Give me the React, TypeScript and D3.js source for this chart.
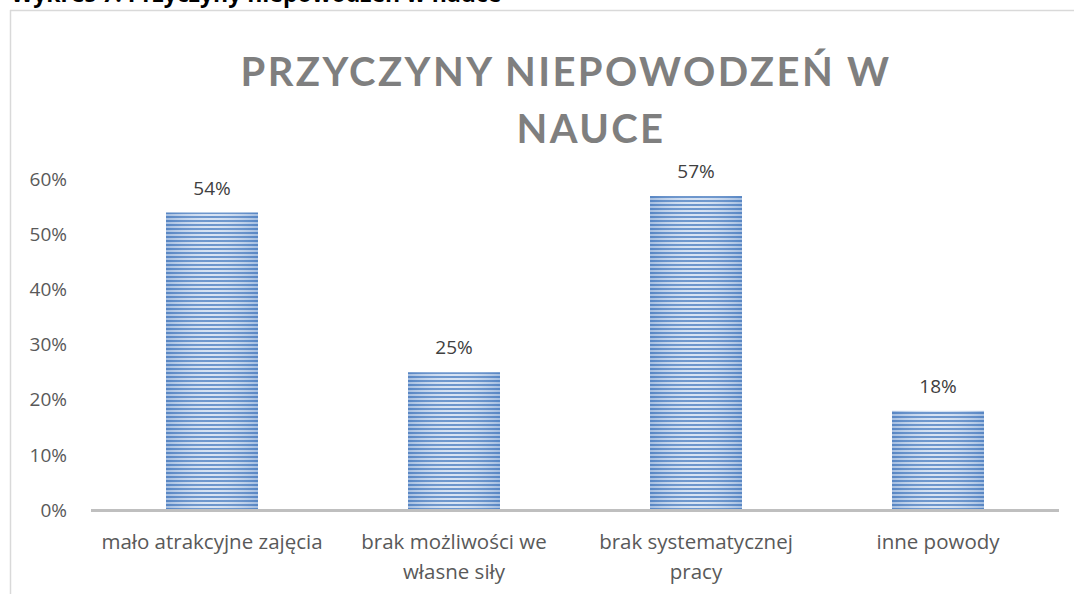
import * as d3 from 'd3';

const CATEGORIES = ['mało atrakcyjne zajęcia', 'brak możliwości we\nwłasne siły', 'brak systematycznej\npracy', 'inne powody'];
const VALUES = [0.54, 0.25, 0.57, 0.18];
const Y_TICKS = [0, 0.1, 0.2, 0.3, 0.4, 0.5, 0.6];
const TITLE_LINES = ['PRZYCZYNY NIEPOWODZEŃ W', 'NAUCE'];
const CAPTION = 'Wykres 7. Przyczyny niepowodzeń w nauce';

const W = 1074, H = 594;
const FONT = '"Open Sans", Lato, sans-serif';
const TITLE_FONT = 'Lato, "Open Sans", sans-serif';

export default function App() {
  const x = d3.scaleBand<string>().domain(CATEGORIES).range([91, 1059]).paddingInner(0.62).paddingOuter(0.31);
  const y = d3.scaleLinear().domain([0, 0.6]).range([510, 179.5]);
  const pct = d3.format('.0%');

  return (
    <svg width={W} height={H} style={{ position: 'absolute', left: 0, top: 0, background: '#fff' }}>
      <defs>
        <pattern id="stripes" patternUnits="userSpaceOnUse" width={8} height={4}>
          <rect width={8} height={4} fill="#d3e0f2" />
          <rect y={0} width={8} height={2} fill="#5b89c6" />
        </pattern>
        <linearGradient id="shade" x1="0" x2="1" y1="0" y2="0">
          <stop offset="0" stopColor="#4f7fbf" stopOpacity={0.35} />
          <stop offset="0.5" stopColor="#ffffff" stopOpacity={0.1} />
          <stop offset="1" stopColor="#4f7fbf" stopOpacity={0.35} />
        </linearGradient>
      </defs>

      {/* clipped caption above the chart */}
      <text x={11} y={2} fontFamily={FONT} fontWeight="bold" fontSize={23} fill="#000">{CAPTION}</text>

      {/* chart frame */}
      <line x1={10} y1={10.5} x2={W} y2={10.5} stroke="#d9d9d9" strokeWidth={1.5} />
      <line x1={10.5} y1={10} x2={10.5} y2={H} stroke="#d9d9d9" strokeWidth={1.5} />

      {/* title */}
      <text x={566} y={86} textAnchor="middle" fontFamily={TITLE_FONT} fontWeight="bold" fontSize={40} letterSpacing={2.4} fill="#7f7f7f">{TITLE_LINES[0]}</text>
      <text x={591} y={143} textAnchor="middle" fontFamily={TITLE_FONT} fontWeight="bold" fontSize={40} letterSpacing={2.4} fill="#7f7f7f">{TITLE_LINES[1]}</text>

      {/* y tick labels */}
      {Y_TICKS.map((t) => (
        <text key={t} x={67} y={y(t)} dy="0.35em" textAnchor="end" fontFamily={FONT} fontSize={19} fill="#595959">{pct(t)}</text>
      ))}

      {/* bars */}
      {CATEGORIES.map((c, i) => (
        <g key={c}>
          <rect x={x(c)} y={y(VALUES[i])} width={x.bandwidth()} height={y(0) - y(VALUES[i])} fill="url(#stripes)" />
          <rect x={x(c)} y={y(VALUES[i])} width={x.bandwidth()} height={y(0) - y(VALUES[i])} fill="url(#shade)" />
          <text x={x(c)! + x.bandwidth() / 2} y={y(VALUES[i]) - 18} textAnchor="middle" fontFamily={FONT} fontSize={19} fill="#404040">{pct(VALUES[i])}</text>
        </g>
      ))}

      {/* x axis */}
      <line x1={91} y1={y(0) + 0.5} x2={1059} y2={y(0) + 0.5} stroke="#bfbfbf" strokeWidth={3} />

      {/* category labels */}
      {CATEGORIES.map((c) => (
        <text key={c} x={x(c)! + x.bandwidth() / 2} y={549} textAnchor="middle" fontFamily={FONT} fontSize={20.5} fill="#595959">
          {c.split('\n').map((line, j) => (
            <tspan key={j} x={x(c)! + x.bandwidth() / 2} dy={j === 0 ? 0 : 30}>{line}</tspan>
          ))}
        </text>
      ))}
    </svg>
  );
}
